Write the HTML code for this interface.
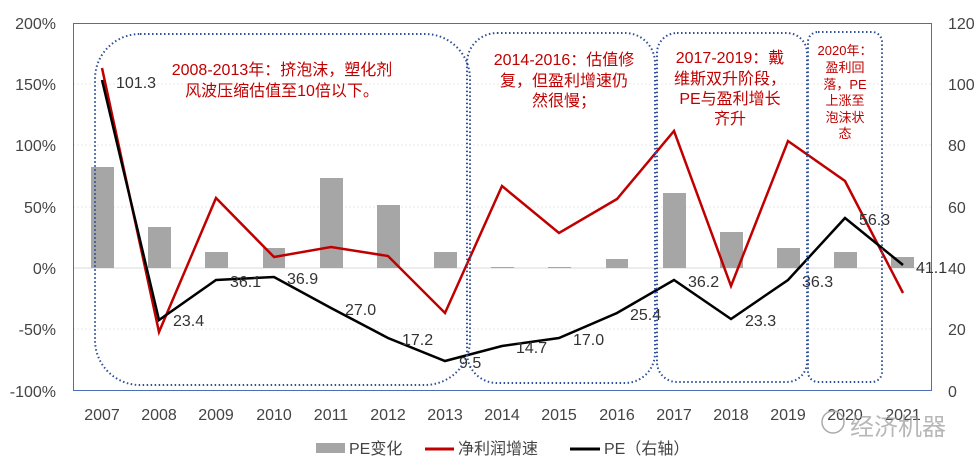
<!DOCTYPE html><html><head><meta charset="utf-8"><style>body{margin:0;background:#fff}svg{display:block}</style></head><body>
<svg width="979" height="466" xmlns="http://www.w3.org/2000/svg" font-family="Liberation Sans, Noto Sans CJK SC, sans-serif">
<rect width="979" height="466" fill="#fff"/>
<g stroke="#e8e8e8" stroke-width="1" stroke-dasharray="2,2">
<line x1="73" y1="84" x2="931" y2="84"/><line x1="73" y1="145" x2="931" y2="145"/><line x1="73" y1="207" x2="931" y2="207"/><line x1="73" y1="329" x2="931" y2="329"/></g>
<line x1="73" y1="268" x2="931" y2="268" stroke="#d9d9d9"/>
<rect x="73.5" y="23.5" width="858" height="367" fill="none" stroke="#4a6fb5" stroke-width="1"/>
<g font-size="16" fill="#444" text-anchor="end">
<text x="56" y="29">200%</text><text x="56" y="90">150%</text><text x="56" y="151">100%</text><text x="56" y="213">50%</text><text x="56" y="274">0%</text><text x="56" y="335">-50%</text><text x="56" y="397">-100%</text></g>
<g font-size="16" fill="#444" text-anchor="start">
<text x="948" y="29">120</text><text x="948" y="90">100</text><text x="948" y="151">80</text><text x="948" y="213">60</text><text x="948" y="274">40</text><text x="948" y="335">20</text><text x="948" y="397">0</text></g>
<g font-size="16" fill="#444" text-anchor="middle">
<text x="102" y="420">2007</text><text x="159" y="420">2008</text><text x="216" y="420">2009</text><text x="274" y="420">2010</text><text x="331" y="420">2011</text><text x="388" y="420">2012</text><text x="445" y="420">2013</text><text x="502" y="420">2014</text><text x="559" y="420">2015</text><text x="617" y="420">2016</text><text x="674" y="420">2017</text><text x="731" y="420">2018</text><text x="788" y="420">2019</text><text x="845" y="420">2020</text><text x="903" y="420">2021</text></g>
<g fill="#a6a6a6">
<rect x="91" y="167" width="23" height="101"/><rect x="148" y="227" width="23" height="41"/><rect x="205" y="252" width="23" height="16"/><rect x="263" y="248" width="22" height="20"/><rect x="320" y="178" width="23" height="90"/><rect x="377" y="205" width="23" height="63"/><rect x="434" y="252" width="23" height="16"/><rect x="491" y="267" width="23" height="1"/><rect x="548" y="267" width="23" height="1"/><rect x="606" y="259" width="22" height="9"/><rect x="663" y="193" width="23" height="75"/><rect x="720" y="232" width="23" height="36"/><rect x="777" y="248" width="23" height="20"/><rect x="834" y="252" width="23" height="16"/><rect x="891" y="257" width="23" height="11"/></g>
<polyline fill="none" stroke="#c00000" stroke-width="2.5" points="102,68 159,332 216,198 274,257 331,247 388,256 445,313 502,186 559,233 617,199 674,131 731,286 788,141 845,181 903,293"/>
<polyline fill="none" stroke="#000" stroke-width="2.5" points="102,80 159,320 216,280 274,277 331,308 388,338 445,361 502,346 559,338 617,313 674,280 731,319 788,280 845,218 903,265"/>
<g font-size="16" fill="#333">
<text x="116" y="88">101.3</text><text x="173" y="326">23.4</text><text x="230" y="287">36.1</text><text x="287" y="284">36.9</text><text x="345" y="315">27.0</text><text x="402" y="345">17.2</text><text x="459" y="368">9.5</text><text x="516" y="353">14.7</text><text x="573" y="345">17.0</text><text x="630" y="320">25.4</text><text x="688" y="287">36.2</text><text x="745" y="326">23.3</text><text x="802" y="287">36.3</text><text x="859" y="225">56.3</text><text x="916" y="273">41.1</text></g>
<g fill="none" stroke="#2f4f96" stroke-width="2" stroke-dasharray="1.5,2.5">
<rect x="95" y="34" width="375" height="351" rx="45"/><rect x="467" y="33" width="188" height="350" rx="30"/><rect x="657" y="33" width="150" height="349" rx="20"/><rect x="808" y="32" width="74" height="350" rx="10"/></g>
<g fill="#c00000" text-anchor="middle">
<g font-size="16"><text x="282" y="75">2008-2013年：挤泡沫，塑化剂</text><text x="282" y="96">风波压缩估值至10倍以下。</text>
<text x="564" y="65">2014-2016：估值修</text><text x="564" y="86">复，但盈利增速仍</text><text x="564" y="106">然很慢；</text>
<text x="730" y="63">2017-2019：戴</text><text x="730" y="84">维斯双升阶段，</text><text x="730" y="104">PE与盈利增长</text><text x="730" y="124">齐升</text></g>
<g font-size="13"><text x="845" y="55">2020年：</text><text x="845" y="72">盈利回</text><text x="845" y="89">落，PE</text><text x="845" y="105">上涨至</text><text x="845" y="122">泡沫状</text><text x="845" y="138">态</text></g></g>
<rect x="316" y="443" width="29" height="10" fill="#a6a6a6"/><text x="349" y="454" font-size="16" fill="#444">PE变化</text>
<line x1="425" y1="449" x2="454" y2="449" stroke="#c00000" stroke-width="3"/><text x="458" y="454" font-size="16" fill="#444">净利润增速</text>
<line x1="570" y1="449" x2="600" y2="449" stroke="#000" stroke-width="3"/><text x="604" y="454" font-size="16" fill="#444">PE（右轴）</text>
<text x="850" y="435" font-size="24" fill="#999" opacity="0.7">经济机器</text>
<circle cx="833" cy="422" r="11" fill="none" stroke="#aaa" stroke-width="1.5"/>
</svg></body></html>
